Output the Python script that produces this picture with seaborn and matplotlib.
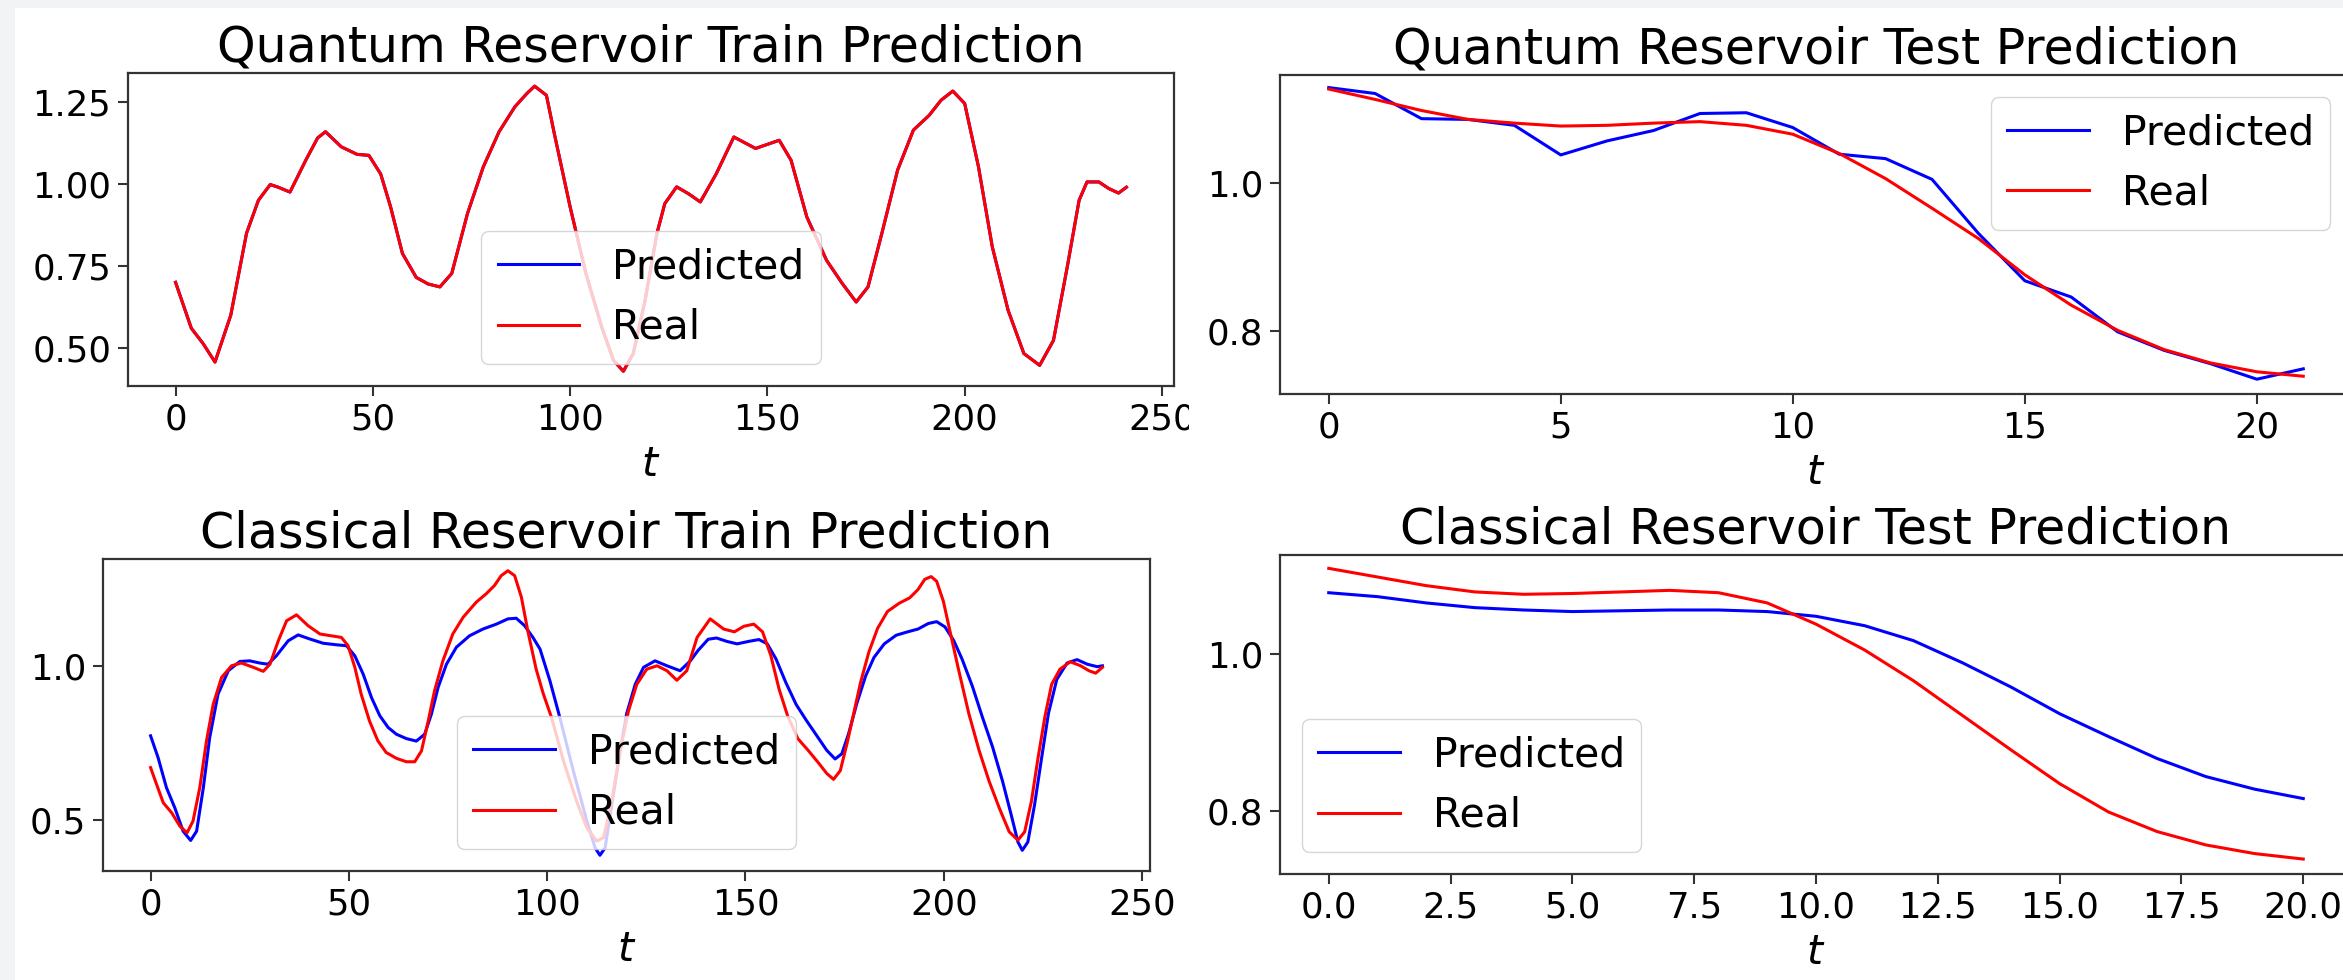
import matplotlib
matplotlib.use("Agg")
import matplotlib.pyplot as plt
from matplotlib.patches import Rectangle
import seaborn as sns

# ---- Quantum reservoir, train (prediction sits exactly on the real curve)
q_train_t = [0, 4, 7, 10, 14, 18, 21, 24, 26, 29, 33, 36, 38, 42, 46, 49, 52, 54.5,
             57.5, 61, 64, 67, 70, 74, 78, 82, 86, 89, 91, 94, 96, 100, 104, 108,
             111, 113.5, 116, 119, 122, 124, 127, 130, 133, 137, 141.5, 147, 153,
             156, 160, 165, 169, 172.5, 175.5, 179, 183, 187, 191, 194, 197, 200,
             203.5, 207, 211, 215, 219, 222.5, 226, 229, 231, 234, 236.5, 239, 241]
q_train_real = [0.70, 0.56, 0.513, 0.457, 0.60, 0.85, 0.95, 0.998, 0.99, 0.975, 1.072,
                1.14, 1.159, 1.113, 1.09, 1.087, 1.03, 0.93, 0.788, 0.715, 0.695, 0.686,
                0.727, 0.91, 1.052, 1.159, 1.235, 1.275, 1.298, 1.27, 1.153, 0.93, 0.727,
                0.564, 0.462, 0.429, 0.483, 0.645, 0.849, 0.94, 0.991, 0.97, 0.945, 1.03,
                1.143, 1.108, 1.133, 1.072, 0.899, 0.767, 0.696, 0.64, 0.686, 0.849,
                1.042, 1.164, 1.209, 1.255, 1.283, 1.245, 1.052, 0.808, 0.615, 0.483,
                0.447, 0.523, 0.747, 0.95, 1.006, 1.006, 0.986, 0.972, 0.99]
q_train_pred = list(q_train_real)

# ---- Quantum reservoir, test
q_test_t = list(range(22))
q_test_pred = [1.129, 1.121, 1.087, 1.086, 1.078, 1.038, 1.057, 1.071, 1.094, 1.095,
               1.075, 1.039, 1.033, 1.005, 0.932, 0.868, 0.846, 0.799, 0.774, 0.756,
               0.735, 0.749]
q_test_real = [1.127, 1.113, 1.098, 1.086, 1.081, 1.077, 1.078, 1.081, 1.083, 1.078,
               1.066, 1.040, 1.006, 0.966, 0.925, 0.876, 0.835, 0.801, 0.775, 0.757,
               0.745, 0.739]

# ---- Classical reservoir, train
c_train_real_t = [0, 1.5, 3.2, 5.3, 7.4, 9.2, 10.7, 12.4, 14.1, 15.8, 17.9, 20.4, 22.9,
                  25.9, 28.4, 30.1, 32.2, 34.3, 36.8, 39.7, 42.7, 45.6, 48.1, 49.8, 51.5,
                  53.1, 55.2, 57.3, 59.4, 62, 64.5, 66.6, 68.3, 70, 71.6, 73.7, 76.2,
                  78.8, 82.1, 84.6, 86.7, 88.4, 90.1, 91.8, 93.5, 95.1, 97.2, 99, 101.1,
                  104.1, 107.4, 110, 112.5, 114.2, 116.3, 118.4, 120.5, 122.6, 125.1,
                  127.7, 130.2, 132.7, 135.2, 137.8, 141.1, 144.5, 147.2, 149.6, 152.1,
                  154.3, 156.4, 158.5, 160.7, 163.2, 165.8, 168.3, 170.5, 172.2, 173.9,
                  175.6, 177.3, 179.0, 181.1, 183.3, 185.8, 188.8, 191.4, 193.5, 195.2,
                  196.8, 198.2, 199.9, 201.6, 203.7, 206.3, 208.9, 211.4, 214.0, 216.5,
                  218.7, 220.4, 222.1, 223.8, 225.5, 227.2, 229.3, 231.9, 234.5, 236.6,
                  238.3, 240]
c_train_real = [0.670, 0.616, 0.556, 0.524, 0.48, 0.459, 0.497, 0.605, 0.757, 0.876,
                0.962, 1.0, 1.009, 0.995, 0.982, 1.005, 1.081, 1.146, 1.165, 1.13, 1.103,
                1.097, 1.092, 1.065, 0.995, 0.908, 0.821, 0.757, 0.719, 0.70, 0.689,
                0.689, 0.724, 0.821, 0.919, 1.016, 1.103, 1.157, 1.206, 1.233, 1.26,
                1.292, 1.308, 1.292, 1.222, 1.114, 0.99, 0.91, 0.832, 0.692, 0.562,
                0.475, 0.432, 0.443, 0.562, 0.724, 0.854, 0.94, 0.989, 1.0, 0.984, 0.953,
                0.984, 1.092, 1.152, 1.119, 1.11, 1.128, 1.135, 1.11, 1.033, 0.923, 0.835,
                0.764, 0.726, 0.687, 0.651, 0.632, 0.66, 0.748, 0.846, 0.945, 1.044,
                1.121, 1.176, 1.203, 1.22, 1.247, 1.28, 1.289, 1.274, 1.209, 1.11, 0.989,
                0.846, 0.726, 0.627, 0.539, 0.462, 0.435, 0.462, 0.561, 0.704, 0.835,
                0.94, 0.989, 1.013, 1.0, 0.984, 0.976, 0.995]
c_train_pred_t = [0, 1.9, 4, 6.1, 8.2, 10.1, 11.6, 13.3, 14.9, 17, 19.6, 22.5, 25, 27.5,
                  29.6, 31.7, 34.7, 37.2, 40.1, 43.5, 46.9, 49.4, 51.5, 53.6, 55.7, 57.8,
                  59.9, 62, 64.5, 67, 69.1, 70.8, 72.5, 74.6, 77.1, 80.4, 83.8, 87.2,
                  90.1, 92.2, 94.3, 96.4, 98.2, 100.7, 103.2, 106.6, 110, 112.1, 113.3,
                  114.6, 116.3, 118.4, 120.0, 122.2, 124.3, 127.2, 130.2, 133.5, 136.1,
                  138.0, 140.6, 142.7, 145.3, 147.9, 150.8, 153.4, 155.5, 157.7, 160.2,
                  162.8, 165.3, 167.9, 170.5, 172.6, 174.3, 176.0, 178.1, 180.3, 182.4,
                  185.0, 188.0, 190.9, 193.5, 196.1, 198.2, 200.3, 202.5, 204.6, 207.2,
                  209.7, 212.3, 214.8, 217.0, 218.7, 219.8, 221.2, 222.9, 224.7, 226.4,
                  228.5, 231.1, 233.6, 236.2, 238.7, 240]
c_train_pred = [0.773, 0.702, 0.605, 0.54, 0.464, 0.434, 0.464, 0.605, 0.767, 0.908,
                0.984, 1.014, 1.016, 1.009, 1.005, 1.032, 1.081, 1.10, 1.087, 1.073,
                1.068, 1.065, 1.032, 0.973, 0.897, 0.838, 0.80, 0.778, 0.764, 0.756,
                0.778, 0.843, 0.93, 1.005, 1.06, 1.097, 1.119, 1.135, 1.152, 1.154,
                1.13, 1.092, 1.054, 0.951, 0.832, 0.659, 0.497, 0.41, 0.386, 0.41,
                0.551, 0.724, 0.843, 0.94, 0.995, 1.016, 1.0, 0.984, 1.016, 1.049, 1.086,
                1.09, 1.079, 1.071, 1.079, 1.085, 1.071, 1.022, 0.945, 0.874, 0.824,
                0.775, 0.726, 0.698, 0.715, 0.78, 0.879, 0.967, 1.027, 1.071, 1.099,
                1.11, 1.119, 1.137, 1.143, 1.126, 1.082, 1.022, 0.934, 0.835, 0.737,
                0.627, 0.517, 0.429, 0.402, 0.429, 0.55, 0.704, 0.846, 0.956, 1.009,
                1.02, 1.005, 0.997, 1.0]

# ---- Classical reservoir, test
c_test_t = list(range(21))
c_test_pred = [1.078, 1.073, 1.065, 1.059, 1.056, 1.054, 1.055, 1.056, 1.056, 1.054,
               1.048, 1.036, 1.017, 0.989, 0.958, 0.924, 0.895, 0.867, 0.844, 0.828,
               0.816]
c_test_real = [1.109, 1.098, 1.087, 1.079, 1.076, 1.077, 1.079, 1.081, 1.078, 1.065,
               1.038, 1.005, 0.966, 0.922, 0.878, 0.835, 0.799, 0.774, 0.757, 0.746,
               0.739]

W, H = 2343, 980
LW = 2.2
TICK_FS = 25.5
LEGEND_FS = 29.5
TITLE_FS = 35.3


def box(left, top, right, bottom):
    # pixel box (top-left origin) -> figure fraction rect
    return [left / W, 1 - bottom / H, (right - left) / W, (bottom - top) / H]


def panel(ax, t_pred, pred, t_real, real, title, xlim, ylim, xticks, yticks, loc):
    sns.lineplot(x=t_pred, y=pred, ax=ax, color="blue", linewidth=LW, label="Predicted")
    sns.lineplot(x=t_real, y=real, ax=ax, color="red", linewidth=LW, label="Real")
    ax.set_xlim(*xlim)
    ax.set_ylim(*ylim)
    ax.set_xticks(xticks)
    ax.set_yticks(yticks)
    ax.set_title(title, fontsize=TITLE_FS, pad=8)
    ax.set_xlabel("$t$", fontsize=LEGEND_FS, labelpad=6)
    ax.set_ylabel("")
    ax.tick_params(labelsize=TICK_FS, length=7, width=1.5, pad=5, color="#333333")
    for sp in ax.spines.values():
        sp.set_linewidth(1.6)
        sp.set_color("#333333")
    ax.legend(loc=loc, fontsize=LEGEND_FS, borderaxespad=0.53)


fig = plt.figure(figsize=(W / 100, H / 100), dpi=100, facecolor="#f2f3f5")
fig.add_artist(Rectangle((15 / W, 0), 1, (H - 8) / H, transform=fig.transFigure,
                         facecolor="white", edgecolor="none", zorder=-10))

ax_tl = fig.add_axes(box(128, 73, 1174, 386))
ax_tr = fig.add_axes(box(1280, 75, 2352, 394))
ax_bl = fig.add_axes(box(103, 559, 1150, 871))
ax_br = fig.add_axes(box(1280, 555, 2352, 874))

panel(ax_tl, q_train_t, q_train_pred, q_train_t, q_train_real,
      "Quantum Reservoir Train Prediction", (-12.05, 253.05), (0.384, 1.338),
      [0, 50, 100, 150, 200, 250], [0.5, 0.75, 1.0, 1.25], "lower center")
panel(ax_tr, q_test_t, q_test_pred, q_test_t, q_test_real,
      "Quantum Reservoir Test Prediction", (-1.05, 22.05), (0.715, 1.146),
      [0, 5, 10, 15, 20], [0.8, 1.0], "upper right")
panel(ax_bl, c_train_pred_t, c_train_pred, c_train_real_t, c_train_real,
      "Classical Reservoir Train Prediction", (-12, 252), (0.335, 1.346),
      [0, 50, 100, 150, 200, 250], [0.5, 1.0], "lower center")
panel(ax_br, c_test_t, c_test_pred, c_test_t, c_test_real,
      "Classical Reservoir Test Prediction", (-1, 21), (0.72, 1.126),
      [0, 2.5, 5, 7.5, 10, 12.5, 15, 17.5, 20], [0.8, 1.0], "lower left")

# the right-hand pair was pasted over the end of the top-left "250" label
fig.add_artist(Rectangle((1189 / W, 1 - 445 / H), 86 / W, 50 / H, transform=fig.transFigure,
                         facecolor="white", edgecolor="none", zorder=10))

fig.savefig("out.png", dpi=100, facecolor=fig.get_facecolor())
